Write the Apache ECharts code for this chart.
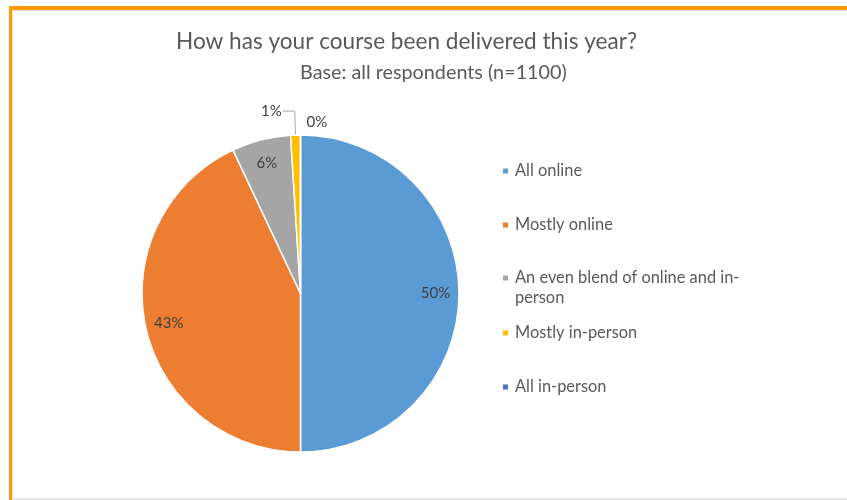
<!DOCTYPE html>
<html>
<head>
<meta charset="utf-8">
<title>Course delivery</title>
<script src="https://cdn.jsdelivr.net/npm/echarts@6/dist/echarts.min.js"></script>
<style>
  html, body { margin: 0; padding: 0; background: #ffffff; }
  #frame {
    position: absolute; left: 9px; top: 6px; width: 838px; height: 494px;
    box-sizing: border-box; border-top: 4px solid #FF9A00; border-left: 3px solid #FF9A00;
  }
  #inner {
    position: absolute; left: 12px; top: 10px; width: 835px; height: 490px;
    box-sizing: border-box; border-top: 1px solid #E4E4E4; border-left: 1px solid #E4E4E4;
    border-bottom: 2px solid #E6E6E6;
  }
  #chart { position: absolute; left: 0; top: 0; width: 847px; height: 500px; }
</style>
</head>
<body>
<div id="frame"></div>
<div id="inner"></div>
<div id="chart"></div>
<script>
// Survey answers and their shares (percent of respondents)
const categories = [
  'All online',
  'Mostly online',
  'An even blend of online and in-person',
  'Mostly in-person',
  'All in-person'
];
const shares = [50, 43, 6, 1, 0];
const sliceColors = ['#5B9BD5', '#ED7D31', '#A5A5A5', '#FFC000', '#4472C4'];
const titleText = 'How has your course been delivered this year?';
const subtitleText = 'Base: all respondents (n=1100)';

const FONT = 'Lato, "Open Sans", sans-serif';
const LABEL_COLOR = '#404040';
const CENTER = [300.5, 293.5];
const RADIUS = 158.5;
const SMALL = 5; // slices below this share get an outside label

// The long legend entry wraps after "in-"; a blank first line keeps
// its marker level with the first written line.
function legendText(name) {
  return name.indexOf(' and in-person') > 0
    ? ' \n' + name.replace('and in-person', 'and in-\nperson')
    : name;
}

function legendBlock(names, top) {
  return {
    orient: 'vertical', left: 503, top: top, padding: 0,
    icon: 'rect', itemWidth: 5, itemHeight: 5, itemGap: 34,
    itemStyle: { borderWidth: 0 },
    selectedMode: false,
    data: names,
    formatter: legendText,
    textStyle: { fontFamily: FONT, fontSize: 16.4, color: '#595959', lineHeight: 20, padding: [0, 0, 0, 2] }
  };
}

// Empty slices have no arc to hang a label on, so their label is placed
// just above the rim at the angle where the slice sits.
function zeroLabels() {
  const total = shares.reduce((a, b) => a + b, 0);
  const out = [];
  let before = 0;
  shares.forEach((v, i) => {
    if (v === 0) {
      const a = (before / total) * 2 * Math.PI;
      const rr = RADIUS + 13;
      const px = CENTER[0] + rr * Math.sin(a);
      const py = CENTER[1] - rr * Math.cos(a);
      out.push({
        type: 'text', x: px + 6, y: py, silent: true,
        style: {
          text: v + '%', fill: LABEL_COLOR, fontFamily: FONT, fontSize: 15,
          align: 'left', verticalAlign: 'middle',
          textAlign: 'left', textVerticalAlign: 'middle'
        }
      });
    }
    before += v;
  });
  return out;
}

const chart = echarts.init(document.getElementById('chart'), null, { renderer: 'canvas' });

chart.setOption({
  backgroundColor: 'transparent',
  animation: false,
  title: [
    {
      text: titleText, left: 176, top: 30, padding: 0,
      textStyle: { fontFamily: FONT, fontSize: 22.6, fontWeight: 'normal', color: '#595959' }
    },
    {
      text: subtitleText, left: 300, top: 63, padding: 0,
      textStyle: { fontFamily: FONT, fontSize: 19.8, fontWeight: 'normal', color: '#595959' }
    }
  ],
  legend: [
    legendBlock(categories.slice(0, 2), 161),
    legendBlock(categories.slice(2, 3), 248),
    legendBlock(categories.slice(3), 323)
  ],
  graphic: zeroLabels(),
  series: [
    {
      // the slices, with outside labels for the thin ones
      type: 'pie', center: CENTER, radius: [0, RADIUS],
      startAngle: 90, clockwise: true, avoidLabelOverlap: false,
      emphasis: { scale: false },
      itemStyle: { borderColor: '#ffffff', borderWidth: 1.5 },
      label: {
        show: true, position: 'outside', formatter: '{c}%', distanceToLabelLine: 1,
        fontFamily: FONT, fontSize: 15, color: LABEL_COLOR
      },
      labelLine: { show: true, length: 24, length2: 12, smooth: false, lineStyle: { color: '#A6A6A6', width: 1 } },
      data: categories.map((name, i) => ({
        name: name,
        value: shares[i],
        itemStyle: { color: sliceColors[i] },
        label: { show: shares[i] > 0 && shares[i] < SMALL },
        labelLine: { show: shares[i] > 0 && shares[i] < SMALL }
      }))
    },
    {
      // labels of the wide slices, placed near the rim
      type: 'pie', center: CENTER, radius: [0, 264], silent: true,
      startAngle: 90, clockwise: true, avoidLabelOverlap: false,
      itemStyle: { color: 'rgba(0,0,0,0)', borderWidth: 0 },
      label: {
        show: true, position: 'inside', formatter: '{c}%',
        fontFamily: FONT, fontSize: 15, color: LABEL_COLOR
      },
      labelLine: { show: false },
      data: categories.map((name, i) => ({
        name: name,
        value: shares[i],
        label: { show: shares[i] >= SMALL }
      }))
    }
  ]
});
</script>
</body>
</html>
